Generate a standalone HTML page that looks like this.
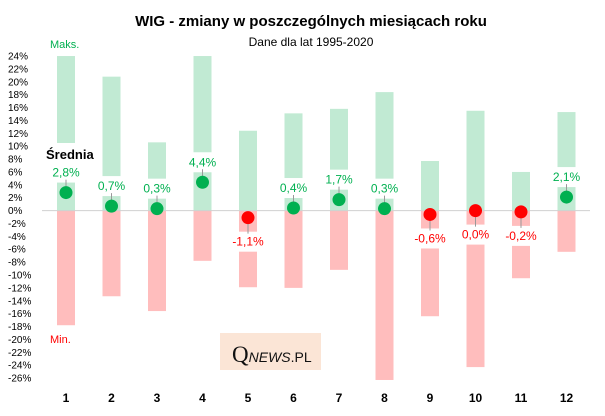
<!DOCTYPE html>
<html><head><meta charset="utf-8"><style>
body{margin:0;background:#fff}
svg{display:block;font-family:"Liberation Sans",sans-serif}
</style></head><body>
<svg id="c" width="605" height="416">
<text x="311" y="26" text-anchor="middle" font-size="15" font-weight="bold">WIG - zmiany w poszczególnych miesiącach roku</text>
<text x="311" y="46" text-anchor="middle" font-size="12">Dane dla lat 1995-2020</text>
<g id="yax"></g><g id="bars"></g>
<line x1="42" x2="590" y1="210.6" y2="210.6" stroke="#d0d0d0"/>
<g id="marks"></g>
<text x="50" y="48" font-size="11" fill="#00B050">Maks.</text>
<text x="50" y="343" font-size="11" fill="#FF0000">Min.</text>
<rect x="44" y="143" width="54" height="22" fill="#fff"/>
<text x="46" y="159" font-size="13" font-weight="bold">Średnia</text>
<g>
<rect x="220" y="333" width="101" height="37" fill="#FBE5D6"/>
<text x="232" y="362" font-family="Liberation Serif,serif" font-size="23" fill="#111">Q<tspan font-size="14" font-style="italic" font-family="Liberation Sans,sans-serif">NEWS</tspan><tspan font-size="14" font-family="Liberation Sans,sans-serif">.PL</tspan></text>
</g>
</svg>
<script>
const months=[1,2,3,4,5,6,7,8,9,10,11,12];
const maxVals=[24,20.8,10.6,24,12.4,15.1,15.8,18.4,7.7,15.5,6.0,15.3];
const minVals=[-17.8,-13.3,-15.6,-7.8,-11.9,-12.0,-9.2,-26.3,-16.4,-24.3,-10.5,-6.4];
const meanVals=[2.8,0.7,0.3,4.4,-1.1,0.4,1.7,0.3,-0.6,0.0,-0.2,2.1];
const meanLabels=["2,8%","0,7%","0,3%","4,4%","-1,1%","0,4%","1,7%","0,3%","-0,6%","0,0%","-0,2%","2,1%"];
const yTicks=[24,22,20,18,16,14,12,10,8,6,4,2,0,-2,-4,-6,-8,-10,-12,-14,-16,-18,-20,-22,-24,-26];
const NS="http://www.w3.org/2000/svg";
const y=v=>210.6-v*6.44;
const x=i=>66+i*45.5;
function mk(t,a,p){const e=document.createElementNS(NS,t);for(const k in a)e.setAttribute(k,a[k]);p.appendChild(e);return e;}
const yax=document.getElementById('yax'),bars=document.getElementById('bars'),marks=document.getElementById('marks');
yTicks.forEach(v=>{const t=mk('text',{x:8,y:y(v)+3.5,'font-size':10},yax);t.textContent=v+'%';

});
months.forEach((m,i)=>{
 const cx=x(i),w=18;
 const g=mk('rect',{x:cx-w/2,y:y(maxVals[i]),width:w,height:y(0)-y(maxVals[i]),fill:'#C1EAD3'},bars);
 
 
 const r=mk('rect',{x:cx-w/2,y:y(0),width:w,height:y(minVals[i])-y(0),fill:'#FFBDBD'},bars);
 
 
 const v=meanVals[i],pos=v>0,col=pos?'#00B050':'#FF0000',lc=pos?'#00B050':'#FF0000';
 const dy=y(v),ly=pos?dy-20:dy+24;
 const bg=mk('rect',{x:cx-w/2-1,y:ly-10,width:w+2,height:20,fill:'#fff'},marks);
 
 
 const ln=mk('line',{x1:cx,x2:cx,y1:dy,y2:pos?ly+7:ly-8,stroke:'#999'},marks);
 
 
 const d=mk('circle',{cx:cx,cy:dy,r:6.5,fill:pos?'#00B050':'#FF0000'},marks);
 
 
 const t=mk('text',{x:cx,y:ly+4,'text-anchor':'middle','font-size':12,fill:lc},marks);
 t.textContent=meanLabels[i];
 
 
 const xl=mk('text',{x:cx,y:402,'text-anchor':'middle','font-size':12,'font-weight':'bold'},marks);
 xl.textContent=m;
 
 
});
</script>
</body></html>
